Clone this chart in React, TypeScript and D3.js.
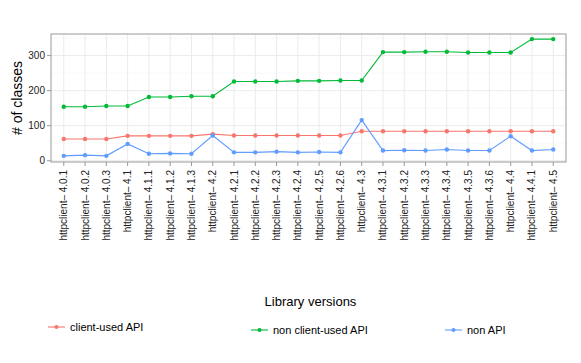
import React from 'react';
import * as d3 from "d3";

// versions on the x axis
const versions = ["4.0.1", "4.0.2", "4.0.3", "4.1", "4.1.1", "4.1.2", "4.1.3", "4.2",
    "4.2.1", "4.2.2", "4.2.3", "4.2.4", "4.2.5", "4.2.6", "4.3",
    "4.3.1", "4.3.2", "4.3.3", "4.3.4", "4.3.5", "4.3.6", "4.4", "4.4.1", "4.5"];
const clientUsed = [62, 62, 62, 71, 71, 71, 71, 76, 72, 72, 72, 72, 72, 72, 84,
    84, 84, 84, 84, 84, 84, 84, 84, 84];
const nonClientUsed = [154, 154, 156, 156, 182, 182, 184, 184, 226, 226, 226, 228, 228, 229, 229,
    310, 310, 311, 311, 309, 309, 309, 347, 347];
const nonApi = [14, 16, 14, 48, 20, 21, 20, 72, 24, 24, 26, 24, 25, 24, 116,
    29, 30, 29, 32, 29, 29, 70, 29, 32];
const yTicks = [0, 100, 200, 300];
const yMinor = [50, 150, 250, 350];

const series = [
    { name: "client-used API", color: "#f8766d", values: clientUsed, lx: 48, ly: 327 },
    { name: "non client-used API", color: "#00ba38", values: nonClientUsed, lx: 251, ly: 330 },
    { name: "non API", color: "#619cff", values: nonApi, lx: 445, ly: 330 },
];

export default function App() {
    const width = 581, height = 363;
    const margin = { top: 34, right: 15, bottom: 201, left: 51 };
    const font = "Liberation Sans, Arial, sans-serif";

    const x = d3.scalePoint<string>()
        .domain(versions)
        .range([margin.left, width - margin.right])
        .padding(0.6);
    const y = d3.scaleLinear()
        .domain([-3.6, 361.6])
        .range([height - margin.bottom, margin.top]);

    const line = d3.line<number>()
        .x((d, i) => x(versions[i])!)
        .y(d => y(d));

    const x0 = margin.left, x1 = width - margin.right;
    const y0 = height - margin.bottom, y1 = margin.top;

    return (
        <svg width={width} height={height} style={{ position: "absolute", left: 0, top: 0 }}>
            <rect width={width} height={height} fill="#fff" />
            {/* grid */}
            {yMinor.map(t => (
                <line key={"mi" + t} x1={x0} x2={x1} y1={y(t)} y2={y(t)} stroke="#f5f5f5" strokeWidth={0.6} />
            ))}
            {yTicks.map(t => (
                <line key={"ma" + t} x1={x0} x2={x1} y1={y(t)} y2={y(t)} stroke="#ebebeb" strokeWidth={1} />
            ))}
            {versions.map(v => (
                <line key={"vg" + v} x1={x(v)} x2={x(v)} y1={y0} y2={y1} stroke="#ebebeb" strokeWidth={1} />
            ))}

            {/* lines and points */}
            {series.map(s => (
                <g key={s.name}>
                    <path d={line(s.values)!} fill="none" stroke={s.color} strokeWidth={1.1} />
                    {s.values.map((v, i) => (
                        <circle key={i} cx={x(versions[i])} cy={y(v)} r={2.2} fill={s.color} />
                    ))}
                </g>
            ))}

            {/* panel border */}
            <rect x={x0} y={y1} width={x1 - x0} height={y0 - y1} fill="none" stroke="#999" strokeWidth={1} />

            {/* y axis */}
            {yTicks.map(t => (
                <g key={"yt" + t}>
                    <line x1={x0 - 4} x2={x0} y1={y(t)} y2={y(t)} stroke="#999" />
                    <text x={x0 - 6} y={y(t)} dy="0.35em" textAnchor="end" fontSize={10}
                        fontFamily={font} fill="#222">{t}</text>
                </g>
            ))}

            {/* x axis */}
            {versions.map(v => (
                <g key={"xt" + v}>
                    <line x1={x(v)} x2={x(v)} y1={y0} y2={y0 + 4} stroke="#999" />
                    <text transform={`translate(${x(v)},${y0 + 8}) rotate(-90)`} dy="0.35em"
                        textAnchor="end" fontSize={10} fontFamily={font} fill="#222">
                        {"httpclient\u2013 " + v}
                    </text>
                </g>
            ))}

            {/* axis titles */}
            <text transform={`translate(22,${(y0 + y1) / 2}) rotate(-90)`} textAnchor="middle"
                fontSize={14} fontFamily={font} fill="#000">{"# of classes"}</text>
            <text x={(x0 + x1) / 2 + 2} y={306} textAnchor="middle" fontSize={13}
                fontFamily={font} fill="#000">Library versions</text>

            {/* legend */}
            {series.map(s => (
                <g key={"lg" + s.name}>
                    <line x1={s.lx} x2={s.lx + 17} y1={s.ly} y2={s.ly} stroke={s.color} strokeWidth={1.1} />
                    <circle cx={s.lx + 8.5} cy={s.ly} r={2} fill={s.color} />
                    <text x={s.lx + 22} y={s.ly} dy="0.35em" fontSize={11} fontFamily={font} fill="#000">{s.name}</text>
                </g>
            ))}
        </svg>
    );
}
